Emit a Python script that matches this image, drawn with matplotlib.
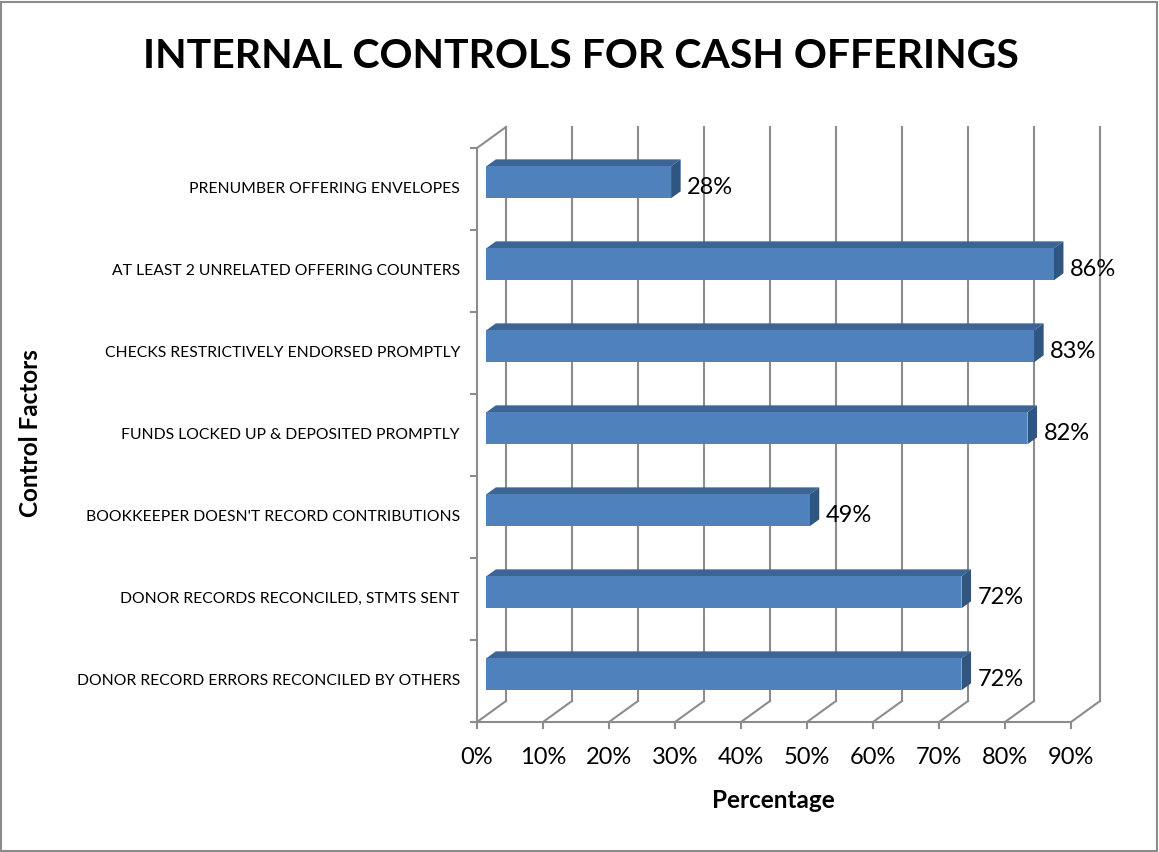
import matplotlib
matplotlib.use("Agg")
import matplotlib.pyplot as plt
from matplotlib.patches import Polygon, Rectangle
from matplotlib.lines import Line2D

# ---- data ----
categories = [
    "PRENUMBER OFFERING ENVELOPES",
    "AT LEAST 2 UNRELATED OFFERING COUNTERS",
    "CHECKS RESTRICTIVELY ENDORSED PROMPTLY",
    "FUNDS LOCKED UP & DEPOSITED PROMPTLY",
    "BOOKKEEPER DOESN'T RECORD CONTRIBUTIONS",
    "DONOR RECORDS RECONCILED, STMTS SENT",
    "DONOR RECORD ERRORS RECONCILED BY OTHERS",
]
values = [28, 86, 83, 82, 49, 72, 72]
xticks = [0, 10, 20, 30, 40, 50, 60, 70, 80, 90]
xtick_labels = ["0%", "10%", "20%", "30%", "40%", "50%", "60%", "70%", "80%", "90%"]

title = "INTERNAL CONTROLS FOR CASH OFFERINGS"
xlabel = "Percentage"
ylabel = "Control Factors"

plt.rcParams["font.family"] = ["Lato", "DejaVu Sans"]

W, H, DPI = 1159, 852, 100
fig = plt.figure(figsize=(W / DPI, H / DPI), dpi=DPI)

# pixel geometry of the front plane
px_per_pct = 6.6
px_per_cat = 82.0
x0_px, y0_px = 477.0, 722.0
xmin, xmax = -6.0, 97.0
ymin, ymax = -0.5, 7.5
left = x0_px + xmin * px_per_pct
right = x0_px + xmax * px_per_pct
bottom = y0_px - ymin * px_per_cat
top = y0_px - ymax * px_per_cat
ax = fig.add_axes([left / W, (H - bottom) / H, (right - left) / W, (bottom - top) / H])
ax.set_xlim(xmin, xmax)
ax.set_ylim(ymin, ymax)
ax.axis("off")

# oblique depth offset (full depth of the box) in data units
ddx = 29.0 / px_per_pct
ddy = 21.0 / px_per_cat
n = len(categories)
grid_c = "#8c8c8c"
lw = 1.5

# back-wall gridlines and floor diagonals
for t in xticks:
    ax.add_line(Line2D([t + ddx, t + ddx], [ddy, n + ddy], color=grid_c, lw=lw, clip_on=False, zorder=1))
    ax.add_line(Line2D([t, t + ddx], [0, ddy], color=grid_c, lw=lw, clip_on=False, zorder=1))
    ax.add_line(Line2D([t, t], [0, -6.0 / px_per_cat], color=grid_c, lw=lw, clip_on=False, zorder=1))
# left wall
ax.add_line(Line2D([0, 0], [0, n], color=grid_c, lw=lw, clip_on=False, zorder=1))
ax.add_line(Line2D([0, ddx], [n, n + ddy], color=grid_c, lw=lw, clip_on=False, zorder=1))
for i in range(n + 1):
    ax.add_line(Line2D([-6.0 / px_per_pct, 0], [i, i], color=grid_c, lw=lw, clip_on=False, zorder=1))
# front floor edge
ax.add_line(Line2D([0, xticks[-1]], [0, 0], color=grid_c, lw=lw, clip_on=False, zorder=1))

# bars
d0, dd = 0.32, 0.33
bar_h = 0.39
front_c, top_c, side_c = "#4F81BD", "#3C6494", "#2F5581"
for i, (cat, v) in enumerate(zip(categories, values)):
    yc = n - i - 0.5
    ox, oy = d0 * ddx, d0 * ddy
    sx, sy = dd * ddx, dd * ddy
    y_lo, y_hi = yc - bar_h / 2 + oy, yc + bar_h / 2 + oy
    x_lo, x_hi = ox, v + ox
    ax.add_patch(Polygon([(x_lo, y_hi), (x_hi, y_hi), (x_hi + sx, y_hi + sy), (x_lo + sx, y_hi + sy)],
                         closed=True, facecolor=top_c, edgecolor="none", clip_on=False, zorder=3))
    ax.add_patch(Polygon([(x_hi, y_lo), (x_hi + sx, y_lo + sy), (x_hi + sx, y_hi + sy), (x_hi, y_hi)],
                         closed=True, facecolor=side_c, edgecolor="none", clip_on=False, zorder=3))
    ax.add_patch(Rectangle((x_lo, y_lo), v, bar_h, facecolor=front_c, edgecolor="none",
                           clip_on=False, zorder=3))
    ax.text(x_hi + sx + 1.0, yc + oy - 0.06, f"{v}%", fontsize=17, ha="left", va="center",
            color="black", zorder=4)
    ax.text(-17.0 / px_per_pct, yc, cat, fontsize=11.3, ha="right", va="center", color="black")

for t, lab in zip(xticks, xtick_labels):
    ax.text(t, -35.0 / px_per_cat, lab, fontsize=17, ha="center", va="center", color="black")

fig.text(581 / W, 1 - 57 / H, title, fontsize=29.5, fontweight="bold", ha="center", va="center")
fig.text(773 / W, 1 - 800 / H, xlabel, fontsize=17.5, fontweight="bold", ha="center", va="center")
fig.text(31 / W, 1 - 433 / H, ylabel, fontsize=17.5, fontweight="bold", ha="center", va="center",
         rotation=90)

# chart border
fig.add_artist(Rectangle((1.0 / W, 1.0 / H), (W - 3.0) / W, (H - 3.0) / H, transform=fig.transFigure,
                         facecolor="none", edgecolor="#8c8c8c", lw=1.5))

fig.savefig("out.png", dpi=DPI, facecolor="white")
